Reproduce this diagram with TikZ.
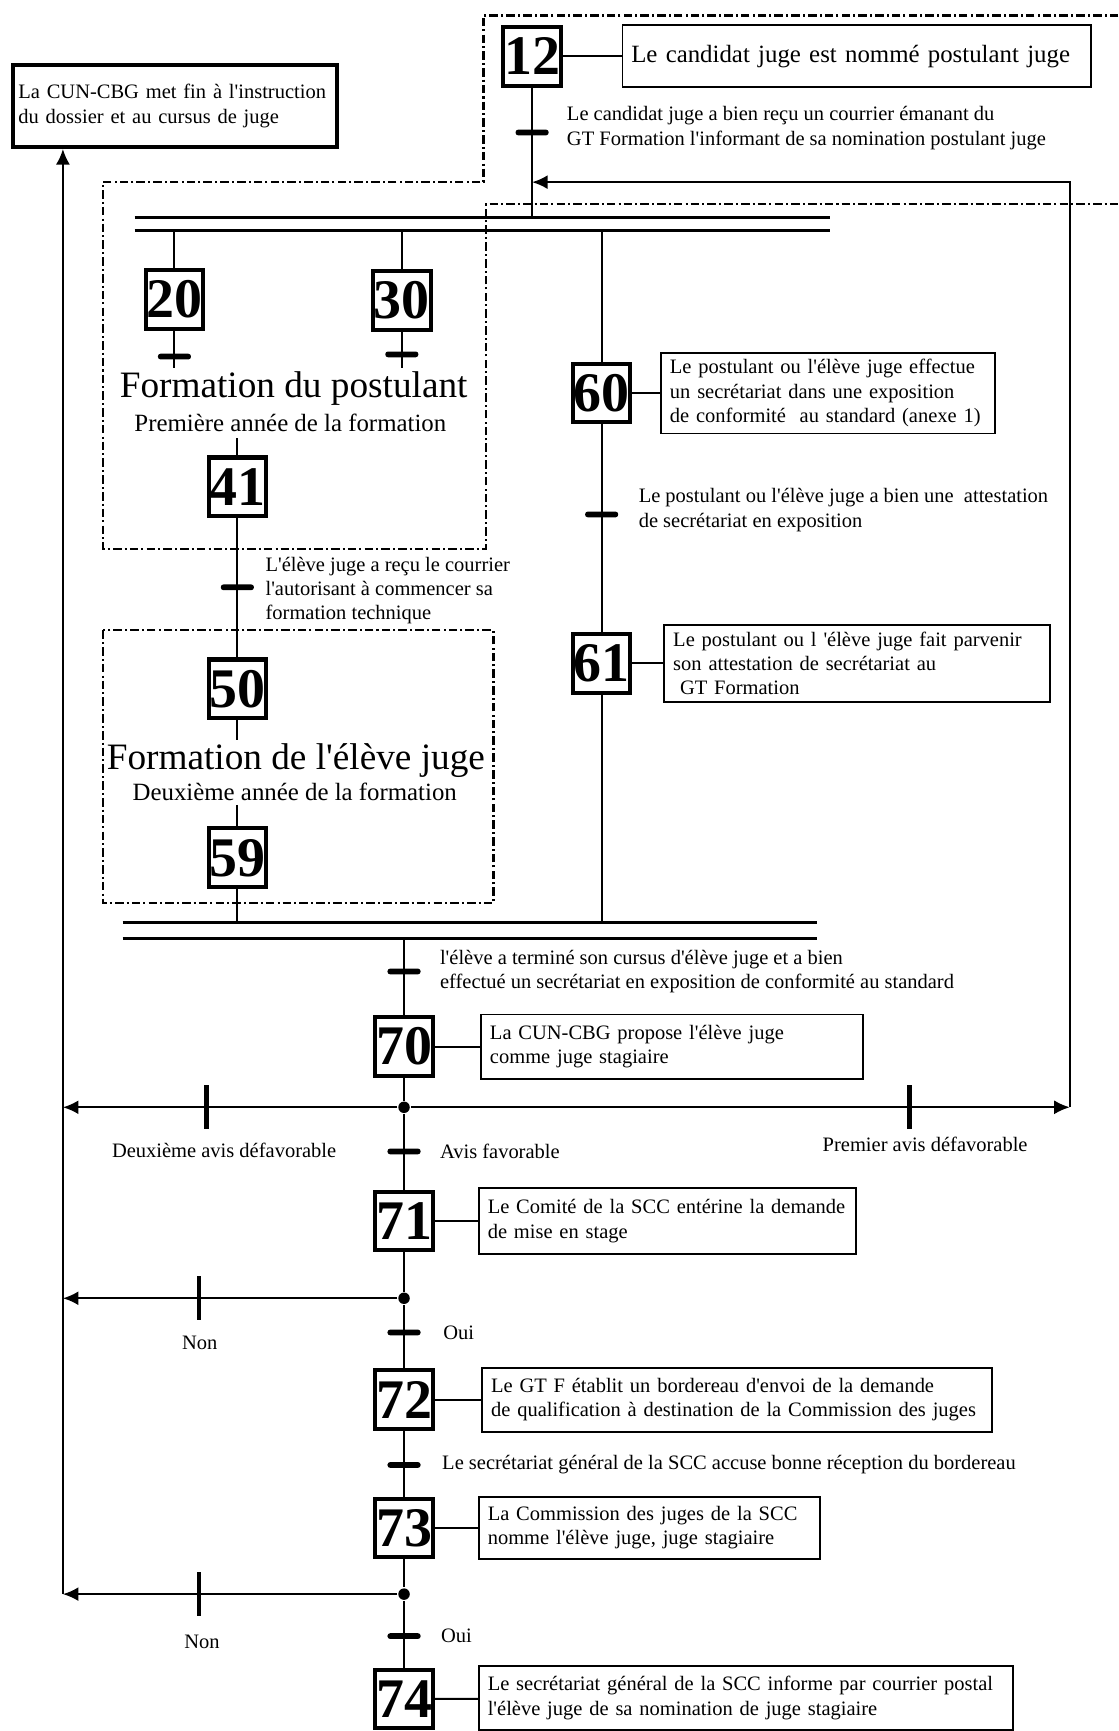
\documentclass[tikz,border=0pt]{standalone}
\usepackage{fontspec}
\setmainfont{Liberation Serif}[Ligatures=TeXOff]
\usetikzlibrary{arrows.meta}

\tikzset{
  etape/.style={draw, line width=2.6pt, minimum width=1.3cm, minimum height=1.33cm, inner sep=0pt, font=\fontsize{36}{36}\selectfont\bfseries},
  action/.style={draw, line width=1.2pt, anchor=west, align=left, inner xsep=0.2cm, font=\fontsize{13.2}{15.6}\selectfont},
  texte/.style={font=\fontsize{13.2}{15.6}\selectfont, align=left},
  recep/.style={fill, inner sep=0pt, minimum width=0.75cm, minimum height=0.13cm, rounded corners=0.06cm},
  vrecep/.style={fill, inner sep=0pt, minimum width=0.1cm, minimum height=1cm},
  point/.style={circle, fill, inner sep=0pt, minimum size=0.26cm},
  cadre/.style={line width=1.4pt, dash pattern=on 5.5pt off 2pt on 1.3pt off 2pt},
  titre/.style={font=\fontsize{24}{24}\selectfont},
  soustitre/.style={font=\fontsize{16}{16}\selectfont}
}

\begin{document}
\begin{tikzpicture}[x=0.025cm, y=-0.025cm, line width=1.3pt, >={Latex[length=10pt,width=9pt]}]
  \useasboundingbox (0,0) rectangle (1013,1568);

  % cadres
  \draw[cadre] (1013,14) -- (438,14) -- (438,165) -- (93,165) -- (93,497) -- (440,497) -- (440,185) -- (1013,185);
  \draw[cadre] (93,571) rectangle (447,818);

  % fin du cursus
  \node[draw, line width=2.8pt, anchor=west, texte, text width=7.1cm, minimum height=1.85cm] (fin) at (10,96) {La CUN-CBG met fin à l'instruction\\du dossier et au cursus de juge};

  % etape 12
  \node[etape] (e12) at (482,51) {12};
  \node[action, text width=10.2cm, minimum height=1.4cm, font=\fontsize{16}{19}\selectfont] (a12) at (563,51) {Le candidat juge est nommé postulant juge};
  \draw (e12) -- (a12);
  \coordinate (d12) at (482,197);
  \draw (e12) -- (d12);
  \node[recep] (t12) at (482,120) {};
  \node[texte, anchor=west] (r12) at (508,116) {Le candidat juge a bien reçu un courrier émanant du\\GT Formation l'informant de sa nomination postulant juge};

  % double barre haute
  \draw[line width=2pt] (122,197) -- (752,197);
  \draw[line width=2pt] (122,209) -- (752,209);
  \coordinate (b20) at (158,209);
  \coordinate (b30) at (364,209);
  \coordinate (b60) at (545,209);

  % formation du postulant
  \node[etape] (e20) at (158,271) {20};
  \node[etape] (e30) at (364,272) {30};
  \draw (b20) -- (e20);
  \draw (b30) -- (e30);
  \coordinate (f20) at (158,333);
  \coordinate (f30) at (364,333);
  \draw (e20) -- (f20);
  \draw (e30) -- (f30);
  \node[recep] (t20) at (158,323) {};
  \node[recep] (t30) at (364,321) {};
  \node[titre] (titre1) at (266,352) {Formation du postulant};
  \node[soustitre] (sous1) at (263,383) {Première année de la formation};
  \coordinate (g41) at (215,397);
  \node[etape] (e41) at (215,441) {41};
  \draw (g41) -- (e41);
  \node[etape] (e50) at (215,624) {50};
  \draw (e41) -- (e50);
  \node[recep] (t41) at (215,532) {};
  \node[texte, anchor=west] (r41) at (235,535) {L'élève juge a reçu le courrier\\l'autorisant à commencer sa\\formation technique};

  % formation de l'eleve juge
  \coordinate (f50) at (215,670);
  \draw (e50) -- (f50);
  \node[titre] (titre2) at (268,689) {Formation de l'élève juge};
  \node[soustitre] (sous2) at (267,717) {Deuxième année de la formation};
  \coordinate (g59) at (215,729);
  \node[etape] (e59) at (215,777) {59};
  \draw (g59) -- (e59);
  \coordinate (b59) at (215,836);
  \draw (e59) -- (b59);

  % secretariat
  \node[etape] (e60) at (545,356) {60};
  \node[action, text width=7.15cm, minimum height=1.83cm] (a60) at (598,356) {Le postulant ou l'élève juge effectue\\un secrétariat dans une exposition\\de conformité\ \ au standard (anexe 1)};
  \draw (b60) -- (e60);
  \draw (e60) -- (a60);
  \node[etape] (e61) at (545,601) {61};
  \node[action, text width=8.33cm, minimum height=1.73cm] (a61) at (601,601) {Le postulant ou l 'élève juge fait parvenir\\son attestation de secrétariat au\\\ GT Formation};
  \draw (e60) -- (e61);
  \draw (e61) -- (a61);
  \node[recep] (t60) at (545,466) {};
  \node[texte, anchor=west] (r60) at (573,462) {Le postulant ou l'élève juge a bien une\ \ attestation\\de secrétariat en exposition};
  \coordinate (b61) at (545,836);
  \draw (e61) -- (b61);

  % double barre basse
  \draw[line width=2pt] (111,836) -- (740,836);
  \draw[line width=2pt] (111,850) -- (740,850);
  \coordinate (b70) at (366,850);

  % etape 70
  \node[etape] (e70) at (366,948) {70};
  \node[action, text width=8.25cm, minimum height=1.45cm] (a70) at (435,948) {La CUN-CBG propose l'élève juge\\comme juge stagiaire};
  \draw (b70) -- (e70);
  \draw (e70) -- (a70);
  \node[recep] (t59) at (366,880) {};
  \node[texte, anchor=west] (r59) at (393,880) {l'élève a terminé son cursus d'élève juge et a bien\\effectué un secrétariat en exposition de conformité au standard};

  % choix apres 70
  \node[point] (j70) at (366,1003) {};
  \coordinate (g70) at (57,1003);
  \coordinate (d70) at (969,1003);
  \coordinate (m12) at (482,165);
  \draw (e70) -- (j70);
  \draw[->] (j70) -- (g70);
  \draw[->] (j70) -- (d70);
  \draw[->] (d70) |- (m12);
  \node[vrecep] (t70a) at (187,1003) {};
  \node[vrecep] (t70b) at (824,1003) {};
  \node[texte] (r70a) at (203,1042) {Deuxième avis défavorable};
  \node[texte] (r70b) at (838,1037) {Premier avis défavorable};
  \node[recep] (t70) at (366,1043) {};
  \node[texte, anchor=west] (r70) at (393,1043) {Avis favorable};

  % etape 71
  \node[etape] (e71) at (366,1106) {71};
  \node[action, text width=8.13cm, minimum height=1.5cm] (a71) at (433,1106) {Le Comité de la SCC entérine la demande\\de mise en stage};
  \draw (j70) -- (e71);
  \draw (e71) -- (a71);
  \node[point] (j71) at (366,1176) {};
  \coordinate (g71) at (57,1176);
  \draw (e71) -- (j71);
  \draw[->] (j71) -- (g71);
  \node[vrecep] (t71a) at (180,1176) {};
  \node[texte] (r71a) at (181,1216) {Non};
  \node[recep] (t71) at (366,1207) {};
  \node[texte, anchor=west] (r71) at (396,1207) {Oui};

  % etape 72
  \node[etape] (e72) at (366,1268) {72};
  \node[action, text width=11.15cm, minimum height=1.45cm] (a72) at (436,1268) {Le GT F établit un bordereau d'envoi de la demande\\de qualification à destination de la Commission des juges};
  \draw (j71) -- (e72);
  \draw (e72) -- (a72);
  \node[recep] (t72) at (366,1327) {};
  \node[texte, anchor=west] (r72) at (395,1327) {Le secrétariat général de la SCC accuse bonne réception du bordereau};

  % etape 73
  \node[etape] (e73) at (366,1384) {73};
  \node[action, text width=7.33cm, minimum height=1.4cm] (a73) at (433,1384) {La Commission des juges de la SCC\\nomme l'élève juge, juge stagiaire};
  \draw (e72) -- (e73);
  \draw (e73) -- (a73);
  \node[point] (j73) at (366,1444) {};
  \coordinate (g73) at (57,1444);
  \draw (e73) -- (j73);
  \draw[->] (j73) -- (g73);
  \draw[->] (g73) -- (g73 |- fin.south);
  \node[vrecep] (t73a) at (180,1444) {};
  \node[texte] (r73a) at (183,1487) {Non};
  \node[recep] (t73) at (366,1482) {};
  \node[texte, anchor=west] (r73) at (394,1482) {Oui};

  % etape 74
  \node[etape] (e74) at (366,1539) {74};
  \node[action, text width=11.7cm, minimum height=1.45cm] (a74) at (433,1538) {Le secrétariat général de la SCC informe par courrier postal\\l'élève juge de sa nomination de juge stagiaire};
  \draw (j73) -- (e74);
  \draw (e74) -- (a74);
\end{tikzpicture}
\end{document}
